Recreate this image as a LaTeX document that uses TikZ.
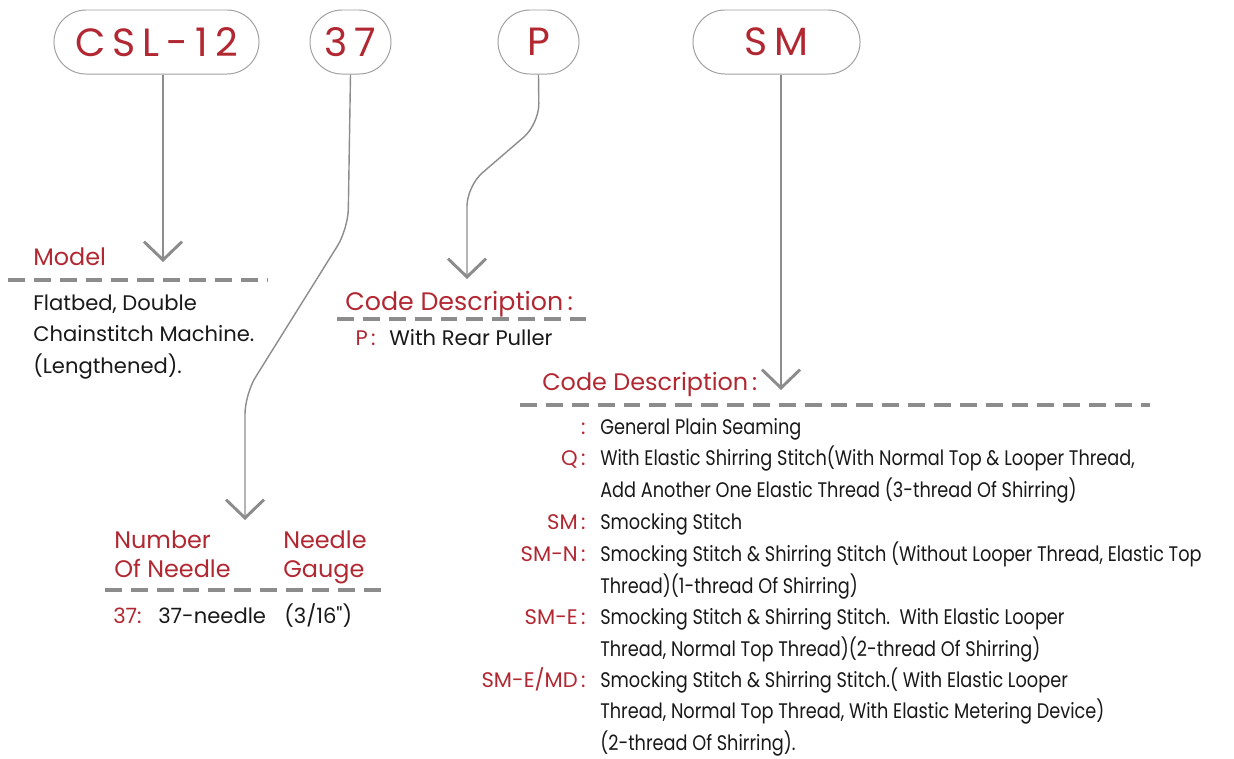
\documentclass[tikz,border=0pt]{standalone}
\usepackage{fontspec}
\setmainfont{Poppins}
\newfontfamily\boxfont[LetterSpace=18]{Poppins}
\newfontfamily\narrowfont[FakeStretch=0.84]{Poppins}
\newfontfamily\quotefont[Ligatures=TeXOff]{Poppins}
\usepackage{xcolor}
\usetikzlibrary{arrows.meta}
\definecolor{codered}{RGB}{178,40,50}
\definecolor{linegray}{RGB}{140,140,140}
\definecolor{boxgray}{RGB}{160,160,160}
\definecolor{ink}{RGB}{25,25,25}

\begin{document}
\begin{tikzpicture}[x={(0.025cm,0)},y={(0,-0.025cm)},
  codebox/.style={draw=boxgray,line width=0.7pt,rounded corners=0.8cm,
    minimum height=1.6cm,inner sep=0pt,text=codered,
    font=\boxfont\fontsize{28}{28}\selectfont},
  link/.style={draw=linegray,line width=1pt,rounded corners=0.5cm,
    -{Straight Barb[length=13pt,width=27pt,line width=2.1pt]}},
  sep/.style={draw=linegray,line width=2.4pt,dash pattern=on 12pt off 6.4pt},
  head/.style={text=codered,inner sep=0pt,align=left,
    font=\fontsize{17}{20.6}\selectfont},
  body/.style={text=ink,inner sep=0pt,align=left,
    font=\fontsize{15}{22.4}\selectfont},
  key/.style={text=codered,inner sep=0pt,anchor=base east,
    font=\fontsize{15}{22.4}\selectfont},
  entry/.style={text=ink,inner sep=0pt,align=left,anchor=base west,
    font=\narrowfont\fontsize{15}{22.4}\selectfont}]
  \useasboundingbox (0,0) rectangle (1234,758);

  % code boxes
  \node[codebox,minimum width=5.125cm] (model) at (156.5,42) {CSL-12};
  \node[codebox,minimum width=2.025cm] (needles) at (350.5,42) {37};
  \node[codebox,minimum width=2.025cm] (puller) at (538.5,42) {P};
  \node[codebox,minimum width=4.175cm] (stitch) at (776.5,42) {SM};

  % arrow ends
  \coordinate (tmodel) at (163,262);
  \coordinate (tneedles) at (245,520);
  \coordinate (tpuller) at (467,279);
  \coordinate (tstitch) at (781,390);

  \draw[link] (model.south -| tmodel) -- (tmodel);
  \draw[link] (needles.south) -- (348,229) -- (245,394) -- (tneedles);
  \draw[link] (puller.south) -- (539,124) -- (467,186) -- (tpuller);
  \draw[link] (stitch.south -| tstitch) -- (tstitch);

  % model (multi-line nodes sit on their last baseline)
  \node[head,anchor=base west] (hmodel) at (33,265) {Model};
  \draw[sep] (8,280) -- (267,280);
  \node[body,anchor=base west] (dmodel) at (33,373)
    {Flatbed, Double\\Chainstitch Machine.\\(Lengthened).};

  % puller
  \node[head,anchor=base west,font=\fontsize{18}{20}\selectfont] (hpuller) at (345,310)
    {Code Description\,:};
  \draw[sep] (337,319) -- (586,319);
  \node[key] (kpuller) at (376,345) {P\,:};
  \node[body,anchor=base west] (dpuller) at (389,345) {With Rear Puller};

  % needles
  \node[head,anchor=base west] (hnumber) at (114,577) {Number\\Of Needle};
  \node[head,anchor=base west] (hgauge) at (283,577) {Needle\\Gauge};
  \draw[sep] (105,590) -- (386,590);
  \node[key,anchor=base west] (kneedles) at (113,623) {37:};
  \node[body,anchor=base west] (dnumber) at (158,623) {37-needle};
  \node[body,anchor=base west] (dgauge) at (284,623) {(3/16{\quotefont"})};

  % stitch
  \node[head,anchor=base west] (hstitch) at (542,390) {Code Description\,:};
  \draw[sep] (520,405) -- (1150,405);
  \node[key] (kplain) at (586,434) {:};
  \node[entry] (dplain) at (600,434) {General Plain Seaming};
  \node[key] (kq) at (586,465) {Q\,:};
  \node[entry] (dq) at (600,497)
    {With Elastic Shirring Stitch(With Normal Top \& Looper Thread,\\
     Add Another One Elastic Thread (3-thread Of Shirring)};
  \node[key] (ksm) at (586,529) {SM\,:};
  \node[entry] (dsm) at (600,529) {Smocking Stitch};
  \node[key] (ksmn) at (586,561) {SM-N\,:};
  \node[entry] (dsmn) at (600,593)
    {Smocking Stitch \& Shirring Stitch (Without Looper Thread, Elastic Top\\
     Thread)(1-thread Of Shirring)};
  \node[key] (ksme) at (586,624) {SM-E\,:};
  \node[entry] (dsme) at (600,656)
    {Smocking Stitch \& Shirring Stitch.\ \ With Elastic Looper\\
     Thread, Normal Top Thread)(2-thread Of Shirring)};
  \node[key] (ksmemd) at (586,687) {SM-E/MD\,:};
  \node[entry] (dsmemd) at (600,750)
    {Smocking Stitch \& Shirring Stitch.( With Elastic Looper\\
     Thread, Normal Top Thread, With Elastic Metering Device)\\
     (2-thread Of Shirring).};
\end{tikzpicture}
\end{document}
